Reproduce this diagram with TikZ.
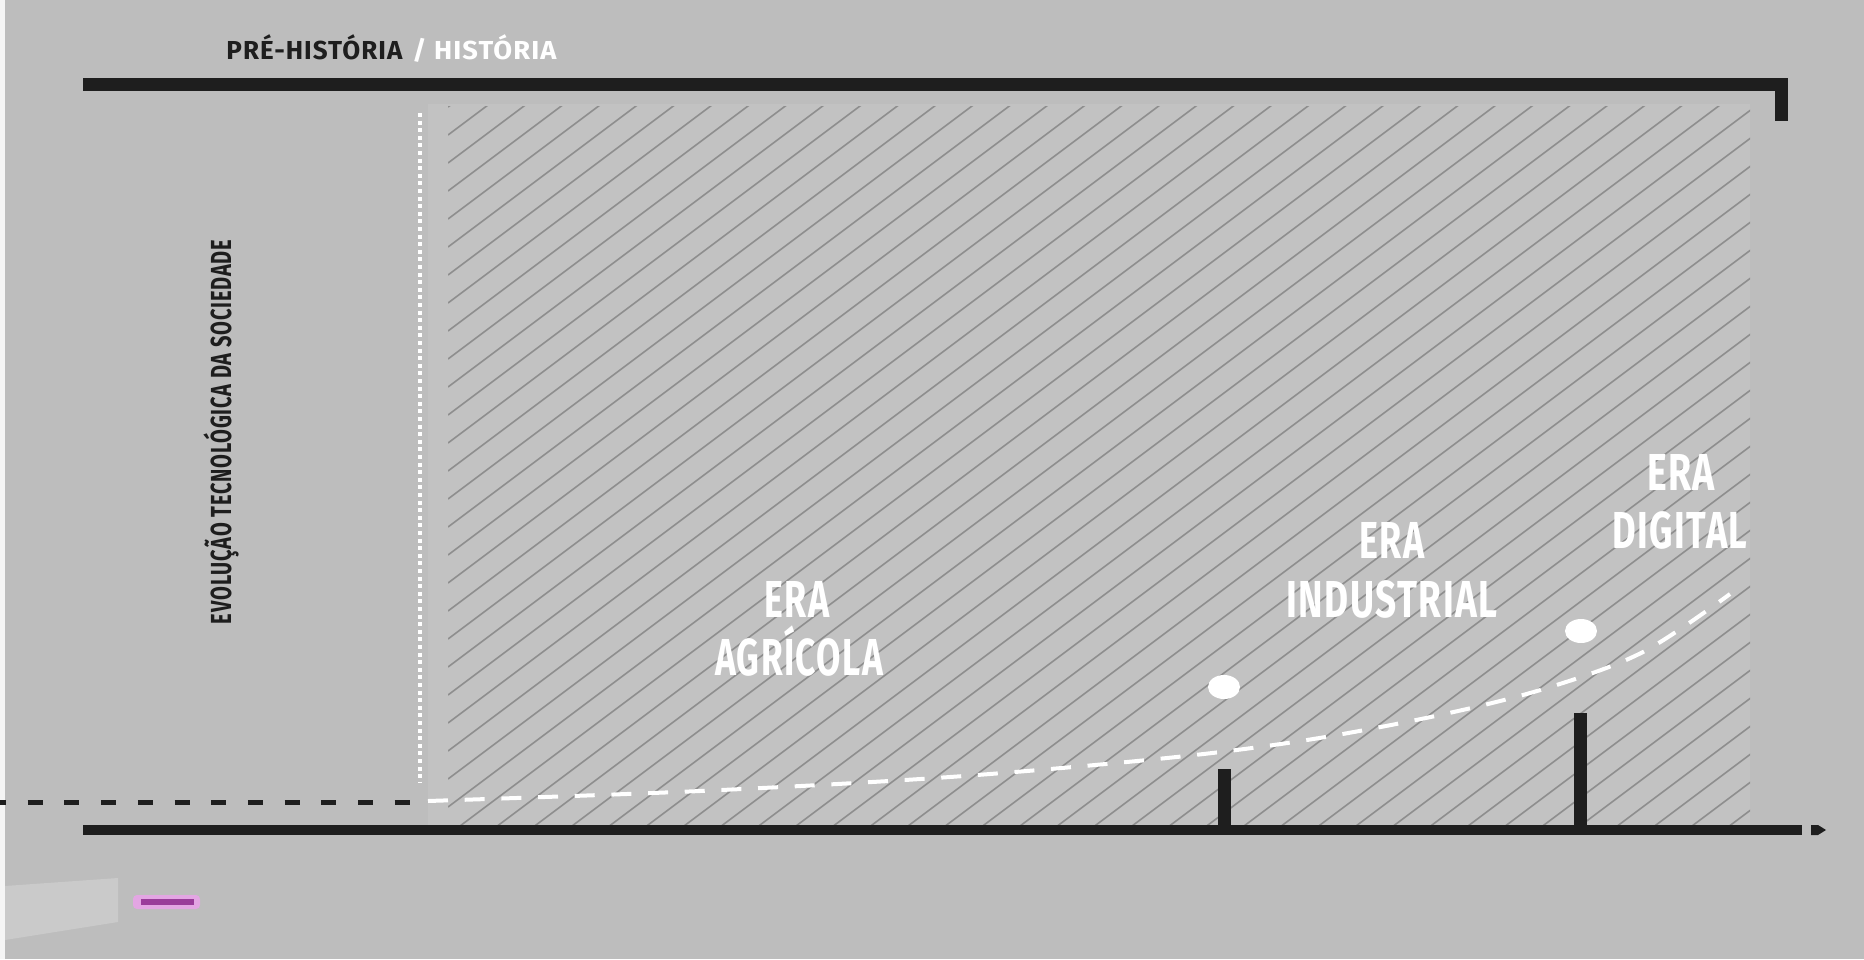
\documentclass[tikz,border=0pt]{standalone}
\usepackage{fontspec}
\usepackage{graphicx}
\usetikzlibrary{shapes.geometric}
\newfontfamily\condfont{Fira Sans}[LetterSpace=4]
\definecolor{bgc}{HTML}{BDBDBD}
\definecolor{hatchbg}{HTML}{C2C2C2}
\definecolor{hatchc}{HTML}{8E8E8E}
\definecolor{barc}{HTML}{1E1E1E}
\definecolor{lightc}{HTML}{CACACA}
\definecolor{pinkc}{HTML}{E3A6E3}
\definecolor{purplec}{HTML}{9A3C9A}
\newcommand\fitw[2]{\resizebox{#1}{\height}{#2}}
\tikzset{
  thickbar/.style={draw=barc, line width=6.5pt, line cap=butt, line join=miter},
  axisbar/.style={draw=barc, line width=5pt, line cap=butt},
  tickbar/.style={draw=barc, line width=6.5pt, line cap=butt},
  hatchline/.style={draw=hatchc, line width=0.8pt},
  blackdash/.style={draw=barc, line width=2.5pt, dash pattern=on 7.5pt off 10.85pt},
  whitedash/.style={draw=white, line width=2pt, dash pattern=on 10pt off 8.35pt},
  dotline/.style={draw=white, line width=2pt, dash pattern=on 2pt off 1.8pt},
  eralbl/.style={text=white, font=\condfont\bfseries\fontsize{26}{30}\selectfont, anchor=base, inner sep=0pt},
  hdr/.style={font=\condfont\bfseries\fontsize{13}{15}\selectfont, anchor=base west, inner sep=0pt},
  vlbl/.style={text=barc, font=\condfont\bfseries\fontsize{14.5}{16}\selectfont, anchor=base, inner sep=0pt, rotate=90},
  dotmark/.style={ellipse, fill=white, draw=none, minimum width=16pt, minimum height=12pt, inner sep=0pt},
}
\begin{document}
\begin{tikzpicture}[x=0.5pt,y=-0.5pt]
\useasboundingbox (0,0) rectangle (1864,959);
\fill[bgc] (0,0) rectangle (1864,959);
\fill[white!85!bgc] (0,0) rectangle (5,959);
% hatched area
\fill[hatchbg] (428,104) rectangle (1750,826);
\begin{scope}
  \clip (448,106) rectangle (1750,826);
  \foreach \i in {0,...,62} \draw[hatchline] (448,107+28*\i) -- ++(1400,-1050);
\end{scope}
% coordinates
\coordinate (tl) at (83,84);
\coordinate (tr) at (1781,84);
\coordinate (trd) at (1781,121);
\coordinate (al) at (83,830);
\coordinate (ar) at (1802,830);
\coordinate (t1b) at (1224,830);
\coordinate (t1t) at (1224,769);
\coordinate (t2b) at (1580,830);
\coordinate (t2t) at (1580,713);
\coordinate (dl) at (-9,802);
\coordinate (dr) at (413,802);
\coordinate (vt) at (420,113);
\coordinate (vb) at (420,783);
% bars
\draw[thickbar] (tl) -- (tr) -- (trd);
\draw[axisbar] (al) -- (ar);
\fill[barc] (1811,825) -- (1818,825) -- (1826,830) -- (1818,835) -- (1811,835) -- cycle;
\draw[tickbar] (t1b) -- (t1t);
\draw[tickbar] (t2b) -- (t2t);
% dashed lines
\draw[blackdash] (dl) -- (dr);
\draw[dotline] (vt) -- (vb);
\draw[whitedash] plot[smooth, tension=0.55] coordinates {(428,801) (700,791) (950,777) (1167,758) (1307,740) (1440,715) (1547,688) (1643,652) (1730,594)};
% dots
\node[dotmark] (d1) at (1224,687) {};
\node[dotmark] (d2) at (1581,631) {};
% header
\node[hdr, text=barc] (h1) at (226,59) {\fitw{88pt}{PRÉ-HISTÓRIA}};
\node[hdr, text=white] (h2) at (412,59) {\fitw{72pt}{/ HISTÓRIA}};
% vertical label
\node[vlbl] (v1) at (231,432) {\fitw{192pt}{EVOLUÇÃO TECNOLÓGICA DA SOCIEDADE}};
% era labels
\node[eralbl] (ea1) at (797,617) {\fitw{32.5pt}{ERA}};
\node[eralbl] (ea2) at (799,675) {\fitw{84pt}{AGRÍCOLA}};
\node[eralbl] (ei1) at (1392,558) {\fitw{32.5pt}{ERA}};
\node[eralbl] (ei2) at (1392,617) {\fitw{105.5pt}{INDUSTRIAL}};
\node[eralbl] (ed1) at (1681,490) {\fitw{34pt}{ERA}};
\node[eralbl] (ed2) at (1680,548) {\fitw{67.5pt}{DIGITAL}};
% bottom-left light shape and pink mark
\fill[lightc] (5,886) -- (118,878) -- (118,922) -- (5,940) -- cycle;
\fill[pinkc, rounded corners=2pt] (133,895) rectangle (200,909);
\fill[purplec] (141,899) rectangle (194,905);
\end{tikzpicture}
\end{document}
